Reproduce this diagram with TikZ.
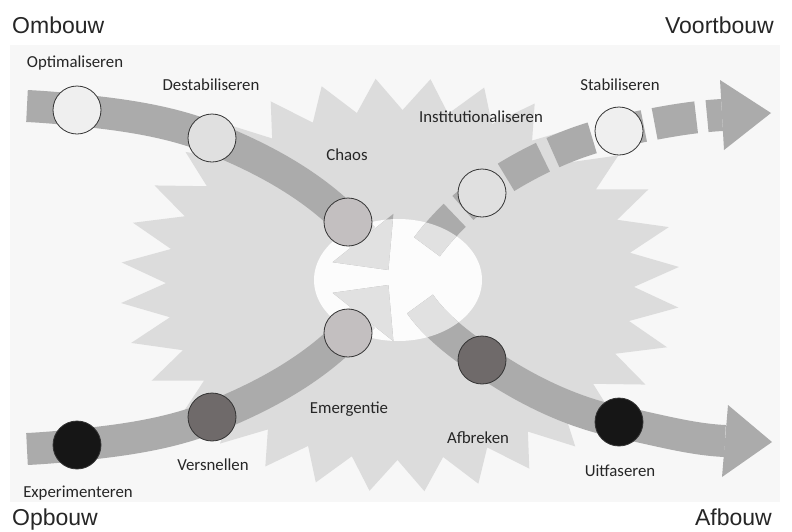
\documentclass[tikz,border=0pt]{standalone}
\usepackage{fontspec}
\setmainfont{Carlito}
\newfontfamily\cornerfont{Liberation Sans}
\definecolor{panel}{RGB}{247,247,247}
\definecolor{stargray}{RGB}{220,220,220}
\definecolor{holecol}{RGB}{252,252,252}
\definecolor{bandgray}{RGB}{171,171,171}
\definecolor{bandlight}{RGB}{225,225,225}
\definecolor{cwhite}{RGB}{239,239,239}
\definecolor{clight}{RGB}{224,224,224}
\definecolor{cmauve}{RGB}{195,191,192}
\definecolor{cdark}{RGB}{111,106,106}
\definecolor{cblack}{RGB}{22,22,22}
\newcommand\bandA{(a0) .. controls (43.7,106.8) and (60.4,108.3) .. (p-opt) .. controls (122.8,114.6) and (169.2,121) .. (p-dest) .. controls (261.3,157.6) and (310.9,184.2) .. (p-chaos) -- (aend)}
\newcommand\headA{(hA1) -- (hAt) -- (hA2) -- cycle}
\newcommand\bandD{(d0) .. controls (43.7,448.2) and (60.4,446.7) .. (p-exp) .. controls (122.8,440.4) and (169.2,434) .. (p-vers) .. controls (261.3,397.4) and (310.9,370.8) .. (p-emer) -- (dend)}
\newcommand\headD{(hD1) -- (hDt) -- (hD2) -- cycle}
\newcommand\bandB{(b0) .. controls (435.9,326.8) and (459.2,344.2) .. (p-afbr) .. controls (523,388.5) and (570,412) .. (p-uitf) .. controls (655.3,429.4) and (691,439.5) .. (bend)}
\newcommand\headB{(hB1) -- (hBt) -- (hB2) -- cycle}
\newcommand\bandC{(cend) .. controls (686,117) and (652.3,124.2) .. (p-stab) .. controls (570,141) and (523,164.5) .. (p-inst) .. controls (458.2,209.5) and (437.5,231.2) .. (c0)}
\newcommand\headC{(hC1) -- (hCt) -- (hC2) -- cycle}
\begin{document}
\begin{tikzpicture}[x=1pt,y=-1pt,
  band/.style={line width=32pt, line cap=butt, line join=round},
  dashband/.style={band, dash pattern=on 42pt off 11pt, dash phase=27pt},
  dot/.style={circle, minimum size=48pt, inner sep=0pt, draw=black!80, line width=0.8pt},
  lbl/.style={inner sep=0pt, anchor=base, font=\fontsize{16.8}{20}\selectfont, text=black!85},
  corner/.style={inner sep=0pt, font=\cornerfont\fontsize{23}{27}\selectfont, text=black!85}]
\useasboundingbox (0,0) rectangle (792,531);
\fill[white] (0,0) rectangle (792,531);
\fill[panel] (10,45) rectangle (780,502);
% burst
\fill[stargray] ({400+280*cos(5)},{285-207*sin(5)})
  \foreach \i in {0,...,31} {
    -- ({400+280*cos(5+11.25*\i)},{285-207*sin(5+11.25*\i)})
    -- ({400+234*cos(10.625+11.25*\i)},{285-175*sin(10.625+11.25*\i)}) } -- cycle;
\fill[holecol] (398,280) ellipse [x radius=84, y radius=61];
% coordinates
\coordinate (a0) at (27,106);
\coordinate (p-opt) at (77,110);
\coordinate (p-dest) at (212,138);
\coordinate (p-chaos) at (348,222);
\coordinate (aend) at (363,238);
\coordinate (hA1) at (393.4,213.8);
\coordinate (hAt) at (388.4,270);
\coordinate (hA2) at (332.6,262.2);
\coordinate (d0) at (27,449);
\coordinate (p-exp) at (77,445);
\coordinate (p-vers) at (212,417);
\coordinate (p-emer) at (348,333);
\coordinate (dend) at (363,317);
\coordinate (hD1) at (393.4,341.2);
\coordinate (hDt) at (388.4,285);
\coordinate (hD2) at (332.6,292.8);
\coordinate (b0) at (420,304);
\coordinate (p-afbr) at (482,360);
\coordinate (p-uitf) at (619,422);
\coordinate (bend) at (725,441);
\coordinate (hB1) at (728,405);
\coordinate (hBt) at (772,442);
\coordinate (hB2) at (722,477);
\coordinate (c0) at (421,255);
\coordinate (p-inst) at (482,193);
\coordinate (p-stab) at (619,131);
\coordinate (cend) at (722,115);
\coordinate (hC1) at (720,80);
\coordinate (hCt) at (771,113);
\coordinate (hC2) at (724,150);
% bands
\draw[band, bandgray] \bandA; \fill[bandgray] \headA;
\draw[band, bandgray] \bandD; \fill[bandgray] \headD;
\draw[band, bandgray] \bandB; \fill[bandgray] \headB;
\draw[dashband, bandgray] \bandC; \fill[bandgray] \headC;
\begin{scope}
  \clip (398,280) ellipse [x radius=84, y radius=61];
  \draw[band, bandlight] \bandA; \fill[bandlight] \headA;
  \draw[band, bandlight] \bandD; \fill[bandlight] \headD;
  \draw[band, bandlight] \bandB;
  \draw[dashband, bandlight] \bandC;
\end{scope}
% circles
\node[dot, fill=cwhite] (opt) at (p-opt) {};
\node[dot, fill=clight] (dest) at (p-dest) {};
\node[dot, fill=cmauve] (chaos) at (p-chaos) {};
\node[dot, fill=cmauve] (emer) at (p-emer) {};
\node[dot, fill=cdark] (vers) at (p-vers) {};
\node[dot, fill=cblack] (exp) at (p-exp) {};
\node[dot, fill=clight] (inst) at (p-inst) {};
\node[dot, fill=cwhite] (stab) at (p-stab) {};
\node[dot, fill=cdark] (afbr) at (p-afbr) {};
\node[dot, fill=cblack] (uitf) at (p-uitf) {};
% labels
\node[lbl] (l-opt) at (75,67.7) {Optimaliseren};
\node[lbl] (l-dest) at (211,90) {Destabiliseren};
\node[lbl] (l-chaos) at (347,160.5) {Chaos};
\node[lbl] (l-inst) at (481,122.5) {Institutionaliseren};
\node[lbl] (l-stab) at (620,90.7) {Stabiliseren};
\node[lbl] (l-emer) at (349,413.3) {Emergentie};
\node[lbl] (l-vers) at (213,470) {Versnellen};
\node[lbl] (l-exp) at (78,497.7) {Experimenteren};
\node[lbl] (l-afbr) at (478,443.3) {Afbreken};
\node[lbl] (l-uitf) at (620,476) {Uitfaseren};
\node[corner, anchor=base west] (t-om) at (12,33) {Ombouw};
\node[corner, anchor=base east] (t-voort) at (774,33) {Voortbouw};
\node[corner, anchor=base west] (t-op) at (12,525) {Opbouw};
\node[corner, anchor=base east] (t-af) at (772,525) {Afbouw};
\end{tikzpicture}
\end{document}
